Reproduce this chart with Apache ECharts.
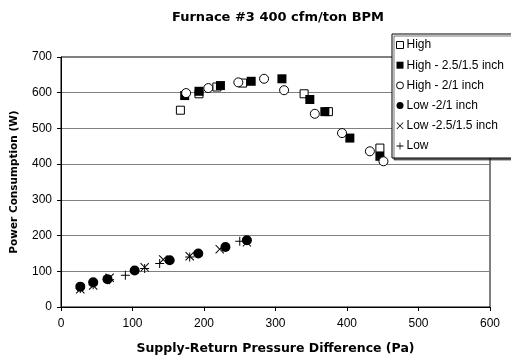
<!DOCTYPE html>
<html>
<head>
<meta charset="utf-8">
<script src="https://cdn.jsdelivr.net/npm/echarts@6/dist/echarts.min.js"></script>
<style>html,body{margin:0;padding:0;background:#fff;}#c{width:511px;height:362px;}</style>
</head>
<body>
<div id="c"></div>
<script>
var titleText = 'Furnace #3 400 cfm/ton BPM';
var xAxisName = 'Supply-Return Pressure Difference (Pa)';
var yAxisName = 'Power Consumption (W)';
var seriesNames = ['High', 'High - 2.5/1.5 inch', 'High - 2/1 inch', 'Low -2/1 inch', 'Low -2.5/1.5 inch', 'Low'];

var high = [[167,551],[193,597],[218,616],[254,627],[340,597],[374,547],[446,445]];
var high25 = [[173,592],[193,604],[223,620],[266,632],[309,639],[348,581],[369,547],[404,473],[446,422]];
var high21 = [[175,599],[206,613],[248,629],[284,639],[312,607],[355,541],[393,487],[432,436],[451,408]];
var low21 = [[27,57],[45,69],[65,78],[103,102],[152,131],[192,150],[230,168],[260,187]];
var low25 = [[27,50],[45,60],[68,82],[117,111],[143,133],[180,142],[222,162],[260,181]];
var lowPlain = [[27,52],[45,62],[68,76],[90,89],[117,108],[138,122],[180,140],[250,184]];

var X_PATH = 'path://M0,0.8 L0.8,0 L5,4.2 L9.2,0 L10,0.8 L5.8,5 L10,9.2 L9.2,10 L5,5.8 L0.8,10 L0,9.2 L4.2,5 Z';
var PLUS_PATH = 'path://M4.45,0 L5.55,0 L5.55,4.45 L10,4.45 L10,5.55 L5.55,5.55 L5.55,10 L4.45,10 L4.45,5.55 L0,5.55 L0,4.45 L4.45,4.45 Z';

var chart = echarts.init(document.getElementById('c'), null, {renderer: 'canvas'});
var font = 'Liberation Sans, Arial, sans-serif';
var boldFont = 'DejaVu Sans, Verdana, sans-serif';
function sc(name, data, symbol, size, fill) {
  return {
    name: name, type: 'scatter', data: data, symbol: symbol, symbolSize: size,
    itemStyle: {color: fill, borderColor: '#000', borderWidth: fill === '#fff' ? 1 : 0, opacity: 1},
    emphasis: {disabled: true}
  };
}
var legendIcons = ['rect', 'rect', 'circle', 'circle', X_PATH, PLUS_PATH];
var legendFill = ['#fff', '#000', '#fff', '#000', '#000', '#000'];
chart.setOption({
  animation: false,
  backgroundColor: '#fff',
  textStyle: {fontFamily: font},
  title: {
    text: titleText, left: 273, top: 6, textAlign: 'center',
    textStyle: {fontFamily: boldFont, fontSize: 13, fontWeight: 'bold', color: '#000'}
  },
  grid: {left: 61, right: 21, top: 57, bottom: 55, show: true, borderColor: '#000', borderWidth: 1, backgroundColor: '#fff'},
  legend: {
    orient: 'vertical', left: 392, top: 34, width: 130,
    backgroundColor: '#fff', borderColor: '#000', borderWidth: 1, borderRadius: 0,
    shadowColor: 'rgba(0,0,0,0.55)', shadowOffsetX: 2, shadowOffsetY: 2, shadowBlur: 0,
    padding: [5, 20, 6, 4], itemGap: 8.2, itemWidth: 7, itemHeight: 7,
    textStyle: {fontFamily: font, fontSize: 12, color: '#000', padding: [0, 0, 0, -2]},
    data: seriesNames.map(function (n, i) {
      return {name: n, icon: legendIcons[i],
        itemStyle: {color: legendFill[i], borderColor: '#000', borderWidth: legendFill[i] === '#fff' ? 1 : 0}};
    })
  },
  xAxis: {
    type: 'value', min: 0, max: 600, interval: 100,
    name: xAxisName, nameLocation: 'middle', nameGap: 35,
    nameTextStyle: {fontFamily: boldFont, fontSize: 12.5, fontWeight: 'bold', color: '#000'},
    axisLine: {show: true, onZero: false, lineStyle: {color: '#000', width: 1}},
    axisTick: {show: true, length: 4, lineStyle: {color: '#000'}},
    axisLabel: {fontFamily: font, fontSize: 12, color: '#000', margin: 11},
    splitLine: {show: false}
  },
  yAxis: {
    type: 'value', min: 0, max: 700, interval: 100,
    name: yAxisName, nameLocation: 'middle', nameGap: 41, nameRotate: 90,
    nameTextStyle: {fontFamily: boldFont, fontSize: 10.5, fontWeight: 'bold', color: '#000'},
    axisLine: {show: true, lineStyle: {color: '#000', width: 1}},
    axisTick: {show: true, length: 4, lineStyle: {color: '#000'}},
    axisLabel: {fontFamily: font, fontSize: 12, color: '#000', margin: 9},
    splitLine: {show: true, lineStyle: {color: '#808080', width: 1}}
  },
  series: [
    sc(seriesNames[0], high, 'rect', 8, '#fff'),
    sc(seriesNames[1], high25, 'rect', 9, '#000'),
    sc(seriesNames[2], high21, 'circle', 9, '#fff'),
    sc(seriesNames[3], low21, 'circle', 10, '#000'),
    sc(seriesNames[4], low25, X_PATH, 9, '#000'),
    sc(seriesNames[5], lowPlain, PLUS_PATH, 9, '#000')
  ]
});
</script>
</body>
</html>
